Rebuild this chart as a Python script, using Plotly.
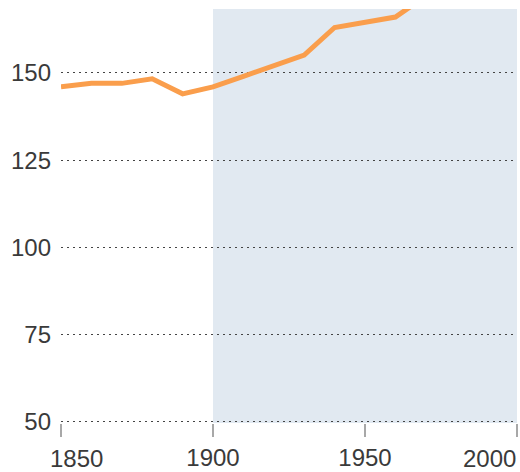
import plotly.graph_objects as go

years = [1850, 1860, 1870, 1880, 1890, 1900, 1910, 1920, 1930, 1940, 1950, 1960, 1970]
values = [146, 147, 147, 148.3, 144, 146, 149, 152, 155.1, 163, 164.5, 166, 172]

x_ticks = [1850, 1900, 1950, 2000]
x_tick_labels = ["1850", "1900", "1950", "2000"]
y_ticks = [50, 75, 100, 125, 150]
y_tick_labels = ["50", "75", "100", "125", "150"]
shade_start, shade_end = 1900, 2000

font_family = "Liberation Sans, Arial, Helvetica, sans-serif"
text_color = "#3a3a3a"
font_size = 24

fig = go.Figure()
fig.add_trace(go.Scatter(
    x=years, y=values, mode="lines",
    line=dict(color="#fa9e4c", width=5),
    hoverinfo="skip", showlegend=False,
))

fig.add_shape(type="rect", xref="x", yref="paper",
              x0=shade_start, x1=shade_end, y0=0, y1=1,
              fillcolor="#e1e9f1", line=dict(width=0), layer="below")

mid_text = [t if i not in (0, len(x_ticks) - 1) else "" for i, t in enumerate(x_tick_labels)]

annotations = [
    dict(x=x_ticks[0], y=0, xref="x", yref="paper", text=x_tick_labels[0],
         showarrow=False, xanchor="left", yanchor="top", xshift=-12, yshift=-21,
         borderpad=0,
         font=dict(family=font_family, size=font_size, color=text_color)),
    dict(x=x_ticks[-1], y=0, xref="x", yref="paper", text=x_tick_labels[-1],
         showarrow=False, xanchor="right", yanchor="top", xshift=0, yshift=-21,
         borderpad=0,
         font=dict(family=font_family, size=font_size, color=text_color)),
]

fig.update_layout(
    width=520, height=472,
    margin=dict(l=61, r=3, t=9, b=49),
    paper_bgcolor="white", plot_bgcolor="rgba(0,0,0,0)",
    font=dict(family=font_family, size=font_size, color=text_color),
    annotations=annotations,
    xaxis=dict(
        range=[1850, 2000], tickvals=x_ticks, ticktext=mid_text,
        showgrid=False, zeroline=False, showline=False,
        ticks="outside", ticklen=13, tickwidth=2, tickcolor="#a8a8a8",
        tickfont=dict(size=font_size, color=text_color),
        automargin=False,
    ),
    yaxis=dict(
        range=[49.7, 168.3], tickvals=y_ticks, ticktext=y_tick_labels,
        showgrid=True, gridcolor="#444444", griddash="2px,4px", gridwidth=1,
        zeroline=False, showline=False, ticks="", ticklabelstandoff=9,
        tickfont=dict(size=font_size, color=text_color),
        automargin=False,
    ),
)

fig.write_html("out.html", config={"displayModeBar": False},
               post_script="document.body.style.margin='0';")
